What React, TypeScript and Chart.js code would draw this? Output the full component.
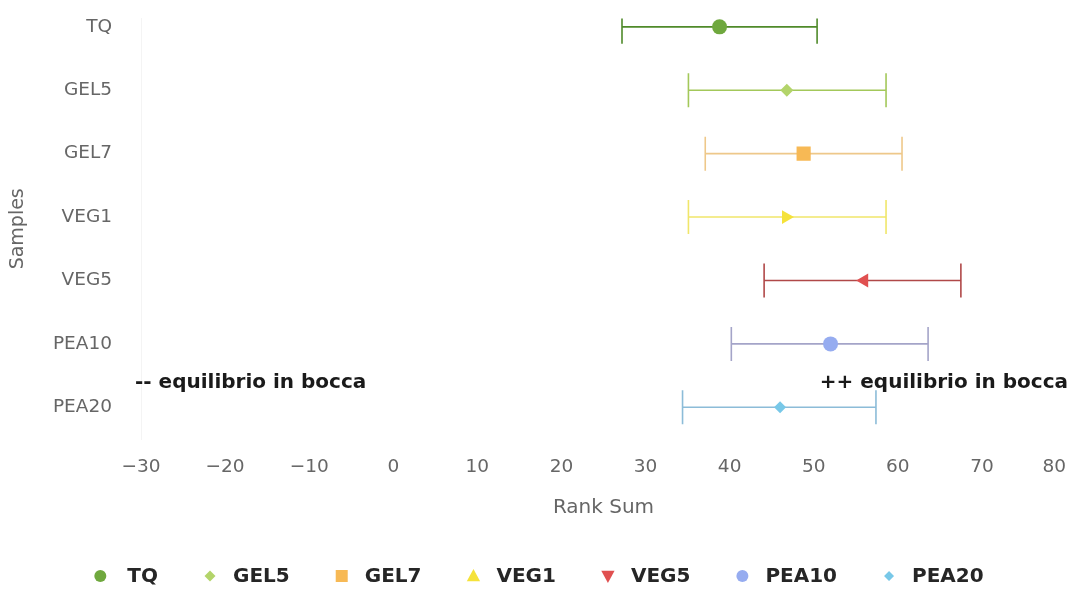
import React, { useEffect, useRef } from "react";
import { Chart, registerables } from "chart.js";

Chart.register(...registerables);

const categories = ["TQ", "GEL5", "GEL7", "VEG1", "VEG5", "PEA10", "PEA20"];
const meanValues = [38.8, 46.8, 48.8, 46.7, 56.0, 52.0, 46.0];
const lowValues = [27.2, 35.1, 37.1, 35.1, 44.1, 40.2, 34.4];
const highValues = [50.4, 58.6, 60.5, 58.6, 67.5, 63.6, 57.4];
const xTicks = [-30, -20, -10, 0, 10, 20, 30, 40, 50, 60, 70, 80];

const markerColors = ["#6fa83e", "#b3d46a", "#f7b955", "#f5e23a", "#e05050", "#96acf0", "#78c8e8"];
const barColors = ["#4f8a2a", "#a3c85a", "#eec88a", "#f0e66a", "#b04848", "#a4a4c8", "#8cbcd8"];
const pointStyles = ["circle", "rectRot", "rect", "triangle", "triangle", "circle", "rectRot"];
const pointRotations = [0, 0, 0, 90, -90, 0, 0];
const legendRotations = [0, 0, 0, 0, 180, 0, 0];
const pointRadii = [7.5, 6.5, 10, 8, 8, 7.5, 6];

const leftNote = "-- equilibrio in bocca";
const rightNote = "++ equilibrio in bocca";
const noteY = 5.62;

const FONT = "'DejaVu Sans', sans-serif";

function drawMarker(ctx: CanvasRenderingContext2D, style: string, rot: number, x: number, y: number, r: number, color: string) {
  ctx.save();
  ctx.fillStyle = color;
  ctx.translate(x, y);
  ctx.rotate((rot * Math.PI) / 180);
  ctx.beginPath();
  if (style === "circle") {
    ctx.arc(0, 0, r, 0, Math.PI * 2);
  } else if (style === "rectRot") {
    ctx.moveTo(0, -r);
    ctx.lineTo(r, 0);
    ctx.lineTo(0, r);
    ctx.lineTo(-r, 0);
    ctx.closePath();
  } else if (style === "rect") {
    ctx.rect(-r, -r, 2 * r, 2 * r);
  } else if (style === "triangle") {
    ctx.moveTo(0, -r);
    ctx.lineTo(r * 0.95, r * 0.75);
    ctx.lineTo(-r * 0.95, r * 0.75);
    ctx.closePath();
  }
  ctx.fill();
  ctx.restore();
}

const legendPlugin = {
  id: "customLegend",
  afterDraw(chart: any) {
    const ctx = chart.ctx as CanvasRenderingContext2D;
    ctx.save();
    ctx.font = `bold 20px ${FONT}`;
    const gapTexts = categories.map((_, i) => (i === 0 ? 27 : 23));
    const gapItem = 52;
    const widths = categories.map((c) => ctx.measureText(c).width);
    let total = 6;
    widths.forEach((w, i) => {
      total += gapTexts[i] + w + (i < widths.length - 1 ? gapItem : 0);
    });
    const y = 576;
    let x = 539 - total / 2 + 6;
    const legendSizes = [6, 5.5, 6, 7, 7, 6, 5];
    categories.forEach((c, i) => {
      drawMarker(ctx, pointStyles[i], legendRotations[i], x, y, legendSizes[i], markerColors[i]);
      ctx.fillStyle = "#262626";
      ctx.textAlign = "left";
      ctx.textBaseline = "middle";
      ctx.fillText(c, x + gapTexts[i], y + 1);
      x += gapTexts[i] + widths[i] + gapItem;
    });
    ctx.restore();
  },
};

// widen the plot area to the right, as in the reference (last tick label sits inside)
const areaPlugin = {
  id: "areaRight",
  afterLayout(chart: any) {
    const target = chart.width - 7;
    const ca = chart.chartArea;
    ca.right = target;
    ca.width = target - ca.left;
    const xs = chart.scales.x;
    xs.right = target;
    xs.width = target - xs.left;
    xs.configure();
    xs._labelItems = null;
    xs._gridLineItems = null;
  },
};

const notesPlugin = {
  id: "notes",
  afterDatasetsDraw(chart: any) {
    const ctx = chart.ctx as CanvasRenderingContext2D;
    const xs = chart.scales.x;
    const ys = chart.scales.y;
    const yy = ys.getPixelForValue(noteY);
    ctx.save();
    ctx.font = `bold 20px ${FONT}`;
    ctx.fillStyle = "#1a1a1a";
    ctx.textBaseline = "middle";
    ctx.textAlign = "left";
    ctx.fillText(leftNote, xs.getPixelForValue(-30) - 6, yy);
    ctx.textAlign = "right";
    ctx.fillText(rightNote, xs.getPixelForValue(80) + 2, yy);
    ctx.restore();
  },
};

export default function App() {
  const ref = useRef<HTMLCanvasElement | null>(null);
  useEffect(() => {
    document.body.style.margin = "0";
    if (!ref.current) return;
    const markerSets = categories.map((c, i) => ({
      type: "scatter" as const,
      label: c,
      data: [{ x: meanValues[i], y: i }],
      pointStyle: pointStyles[i],
      rotation: pointRotations[i],
      pointRotation: pointRotations[i],
      pointRadius: pointRadii[i],
      pointBackgroundColor: markerColors[i],
      pointBorderWidth: 0,
      backgroundColor: markerColors[i],
      borderColor: markerColors[i],
      order: 0,
    }));
    const errorSets = categories.map((c, i) => ({
      type: "line" as const,
      label: c + " range",
      data: [
        { x: lowValues[i], y: i },
        { x: highValues[i], y: i },
      ],
      showLine: true,
      borderColor: barColors[i],
      borderWidth: 1.6,
      pointStyle: "line",
      pointRotation: 90,
      pointRadius: 17,
      pointBorderColor: barColors[i],
      pointBorderWidth: 1.6,
      fill: false,
      order: 1,
    }));
    const lastTick = xTicks[xTicks.length - 1];
    const chart = new Chart(ref.current, {
      type: "scatter",
      data: { datasets: [...markerSets, ...errorSets] as any },
      plugins: [areaPlugin, legendPlugin, notesPlugin],
      options: {
        animation: false,
        responsive: true,
        maintainAspectRatio: false,
        layout: { padding: { left: 0, right: 0, top: 0, bottom: 66 } },
        plugins: {
          legend: { display: false },
          tooltip: { enabled: false },
        },
        scales: {
          x: {
            type: "linear",
            min: -30,
            max: 80,
            afterBuildTicks: (scale: any) => {
              scale.ticks = xTicks.map((v) => ({ value: v }));
            },
            afterFit: (scale: any) => {
              scale.height = 90;
            },
            ticks: {
              padding: 0,
              color: "#666",
              font: { family: FONT, size: 18.5 },
              callback: (v: any) => {
                const n = Number(v);
                if (n === lastTick) return String(n) + "\u00a0\u00a0\u00a0\u00a0";
                return n < 0 ? "\u2212" + Math.abs(n) : String(n);
              },
            },
            grid: { display: false, drawTicks: true, tickLength: 17 },
            border: { display: false },
            title: {
              display: true,
              text: "Rank Sum",
              color: "#666",
              font: { family: FONT, size: 20 },
              padding: { top: 0, bottom: 9 },
            },
          },
          y: {
            type: "linear",
            reverse: true,
            min: -0.13,
            max: 6.5,
            afterBuildTicks: (scale: any) => {
              scale.ticks = categories.map((_, i) => ({ value: i }));
            },
            afterFit: (scale: any) => {
              scale.width = 141;
            },
            ticks: {
              padding: 0,
              color: "#666",
              font: { family: FONT, size: 18.5 },
              callback: (v: any) => categories[Number(v)] ?? "",
            },
            grid: { display: false, drawTicks: true, tickLength: 29 },
            border: { display: true, color: "#f4f4f4" },
            title: {
              display: true,
              text: "Samples",
              color: "#666",
              font: { family: FONT, size: 19 },
              padding: { top: 7, bottom: 0 },
            },
          },
        },
      } as any,
    });
    return () => chart.destroy();
  }, []);
  return (
    <div style={{ position: "relative", width: 1073, height: 595 }}>
      <canvas ref={ref} />
    </div>
  );
}
